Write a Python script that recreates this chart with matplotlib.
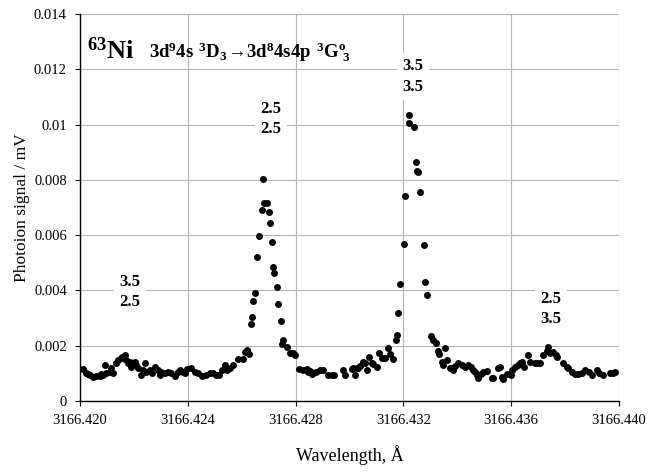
import numpy as np
import matplotlib; matplotlib.use("Agg"); import matplotlib.pyplot as plt

plt.rcParams["font.family"] = ["Liberation Serif", "DejaVu Serif"]
plt.rcParams["mathtext.fontset"] = "custom"
plt.rcParams["mathtext.rm"] = "Liberation Serif"
plt.rcParams["mathtext.bf"] = "Liberation Serif:bold"

BASE = 3166.420
# wavelength offsets from 3166.420 (in mÅ) and photoion signal (mV)
dw = [0.111, 0.234, 0.297, 0.360, 0.482, 0.605, 0.731, 0.779, 0.853, 0.917, 0.976, 1.102, 1.161, 1.224,
      1.347, 1.410, 1.510, 1.558, 1.659, 1.718, 1.781, 1.844, 1.904, 1.967, 2.041, 2.089, 2.152, 2.275,
      2.338, 2.401, 2.460, 2.586, 2.672, 2.772, 2.894, 2.957, 3.017, 3.143, 3.265, 3.388, 3.514, 3.636,
      3.699, 3.822, 3.885, 3.981, 4.130, 4.256, 4.378, 4.527, 4.686, 4.813, 4.935,
      5.046, 5.169, 5.258, 5.380, 5.443, 5.566, 5.688, 5.874, 6.059, 6.122, 6.208, 6.282, 6.356, 6.393,
      6.430, 6.505, 6.579, 6.653, 6.742, 6.801, 6.827, 6.950, 7.013, 7.050, 7.113, 7.150, 7.187, 7.299,
      7.336, 7.447, 7.484, 7.522, 7.670, 7.792, 7.892, 7.978,
      8.137, 8.286, 8.412, 8.471, 8.534, 8.597, 8.657, 8.757, 8.905, 9.028, 9.213, 9.340, 9.425, 9.770,
      9.833, 10.082, 10.141, 10.204, 10.267, 10.327, 10.390, 10.512, 10.575, 10.660, 10.716, 10.824,
      10.883, 11.032, 11.095, 11.195, 11.254, 11.317, 11.440, 11.492, 11.603, 11.714, 11.751, 11.788,
      11.863, 12.015, 12.052, 12.197, 12.219, 12.393, 12.467, 12.516, 12.549, 12.616, 12.764, 12.801,
      12.876, 13.043, 13.109, 13.202, 13.280, 13.332, 13.421, 13.481, 13.544, 13.614, 13.729, 13.792,
      13.859, 13.915, 14.026, 14.163, 14.286, 14.408, 14.497, 14.571, 14.657, 14.720, 14.779, 14.868,
      14.965, 15.091, 15.276, 15.336, 15.521, 15.584, 15.647, 15.707, 15.833, 15.981, 16.019, 16.141,
      16.263, 16.327, 16.389, 16.475, 16.635, 16.698, 16.883, 16.969, 17.069, 17.191, 17.317, 17.377,
      17.440, 17.562, 17.662, 17.711, 17.933, 18.059, 18.119, 18.245, 18.367, 18.490, 18.616, 18.738,
      18.898, 18.987, 19.173, 19.269, 19.418, 19.666, 19.789, 19.852]
sig = [0.00115, 0.00102, 0.00098, 0.00094, 0.00088, 0.00090, 0.00090, 0.00096, 0.00094, 0.00130, 0.00102,
       0.00106, 0.00118, 0.00100, 0.00136, 0.00148, 0.00154, 0.00160, 0.00166, 0.00148, 0.00136, 0.00142,
       0.00124, 0.00136, 0.00140, 0.00130, 0.00118, 0.00094, 0.00112, 0.00136, 0.00106, 0.00112, 0.00100,
       0.00124, 0.00112, 0.00094, 0.00106, 0.00100, 0.00106, 0.00100, 0.00090, 0.00106, 0.00112, 0.00106,
       0.00100, 0.00115, 0.00118, 0.00106, 0.00100, 0.00090, 0.00094, 0.00100, 0.00102,
       0.00094, 0.00094, 0.00112, 0.00130, 0.00112, 0.00118, 0.00130, 0.00151, 0.00151, 0.00178, 0.00184,
       0.00169, 0.00280, 0.00303, 0.00360, 0.00390, 0.00522, 0.00596, 0.00691, 0.00802, 0.00715, 0.00715,
       0.00684, 0.00645, 0.00575, 0.00484, 0.00464, 0.00412, 0.00350, 0.00290, 0.00206, 0.00220, 0.00194,
       0.00172, 0.00172, 0.00166,
       0.00115, 0.00112, 0.00115, 0.00106, 0.00109, 0.00098, 0.00100, 0.00106, 0.00112, 0.00112, 0.00094,
       0.00094, 0.00094, 0.00112, 0.00094, 0.00114, 0.00118, 0.00094, 0.00118, 0.00118, 0.00126, 0.00142,
       0.00138, 0.00112, 0.00161, 0.00138, 0.00134, 0.00124, 0.00172, 0.00157, 0.00154, 0.00156, 0.00193,
       0.00170, 0.00151, 0.00221, 0.00240, 0.00320, 0.00424, 0.00567, 0.00742, 0.01005, 0.01033, 0.00992,
       0.00864, 0.00832, 0.00827, 0.00755, 0.00563, 0.00430, 0.00382, 0.00235, 0.00222, 0.00211, 0.00180,
       0.00169, 0.00140, 0.00132, 0.00192, 0.00148, 0.00118, 0.00120, 0.00112, 0.00128, 0.00138, 0.00130,
       0.00124, 0.00132, 0.00124, 0.00112, 0.00104, 0.00094, 0.00084, 0.00096, 0.00104, 0.00108, 0.00084,
       0.00082, 0.00118, 0.00124, 0.00088, 0.00078, 0.00098, 0.00094, 0.00112, 0.00122, 0.00130, 0.00139,
       0.00142, 0.00124, 0.00166, 0.00142, 0.00136, 0.00139, 0.00136, 0.00166, 0.00182, 0.00194, 0.00172,
       0.00178, 0.00166, 0.00160, 0.00136, 0.00124, 0.00118, 0.00106, 0.00098, 0.00098, 0.00102, 0.00112,
       0.00106, 0.00094, 0.00112, 0.00100, 0.00094, 0.00100, 0.00102, 0.00104]

# hyperfine F quantum numbers (lower / upper) at each component
comp_x = [3166.42186, 3166.42709, 3166.43236, 3166.43748]
comp_y = [0.00394, 0.01020, 0.01174, 0.00333]
comp_lab = ["3.5\n2.5", "2.5\n2.5", "3.5\n3.5", "2.5\n3.5"]

wl = BASE + np.array(dw) * 1e-3

fig = plt.figure(figsize=(6.68, 4.72), dpi=100)
ax = fig.add_axes([0.1198, 0.1504, 0.8068, 0.8199])
ax.scatter(wl, sig, s=25, c="black", linewidths=0, zorder=3)

ax.set_xlim(3166.420, 3166.440); ax.set_ylim(0, 0.014)
ax.set_xticks(np.arange(3166.420, 3166.4401, 0.004))
ax.set_xticklabels([f"{v:.3f}" for v in np.arange(3166.420, 3166.4401, 0.004)])
ax.set_yticks(np.arange(0, 0.0141, 0.002))
ax.set_yticklabels(["0", "0.002", "0.004", "0.006", "0.008", "0.01", "0.012", "0.014"])
ax.grid(True, color="#b4b4b4", lw=0.8)
ax.set_axisbelow(True)
for s in ["top", "right"]:
    ax.spines[s].set_visible(False)
ax.spines["left"].set_linewidth(1.0); ax.spines["bottom"].set_linewidth(1.0)
ax.tick_params(direction="out", length=3.5, width=0.8, labelsize=10.5, pad=6)

for x, y, t in zip(comp_x, comp_y, comp_lab):
    ax.text(x, y, t, ha="center", va="center", fontsize=12, fontweight="bold", linespacing=1.35,
            bbox=dict(facecolor="white", edgecolor="none", pad=4), zorder=4)

ax.text(0.013, 0.906, r"$\mathbf{^{63}Ni}$", transform=ax.transAxes, fontsize=19, va="center")
ax.text(0.128, 0.903, r"$\mathbf{3d^94s\ ^3D_3\!\rightarrow\!3d^84s4p\ ^3G^o_{\ 3}}$",
        transform=ax.transAxes, fontsize=13.5, va="center")

ax.set_xlabel("Wavelength, Å", fontsize=13, labelpad=13)
ax.set_ylabel("Photoion signal / mV", fontsize=12.5, labelpad=3)

fig.savefig("out.png", dpi=100)
